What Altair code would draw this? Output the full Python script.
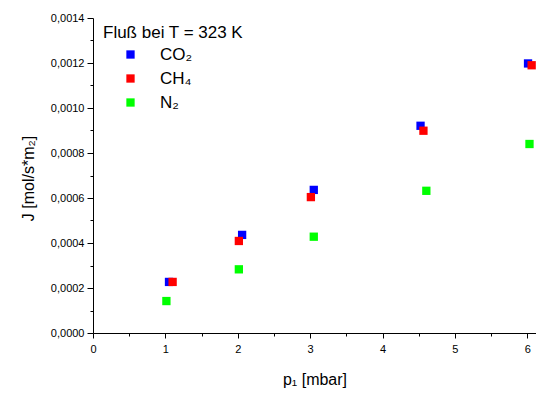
import altair as alt
import pandas as pd

gases = ["CO₂", "CH₄", "N₂"]
colors = ["#0000ff", "#ff0000", "#00ff00"]

co2_p = [1.05, 2.06, 3.05, 4.525, 6.01]
co2_j = [0.000227, 0.000436, 0.000636, 0.000921, 0.001198]
ch4_p = [1.10, 2.015, 3.01, 4.565, 6.06]
ch4_j = [0.000227, 0.000409, 0.000604, 0.000899, 0.00119]
n2_p = [1.014, 2.015, 3.05, 4.605, 6.03]
n2_j = [0.000142, 0.000283, 0.000428, 0.000632, 0.00084]

x_ticks = [0, 0.5, 1, 1.5, 2, 2.5, 3, 3.5, 4, 4.5, 5, 5.5, 6]
y_ticks = [i * 0.0001 for i in range(15)]

rows = []
for g, ps, js in zip(gases, [co2_p, ch4_p, n2_p], [co2_j, ch4_j, n2_j]):
    for p, j in zip(ps, js):
        rows.append({"gas": g, "p": p, "J": j})
df = pd.DataFrame(rows)
df["order"] = df["gas"].map({g: i for i, g in enumerate(gases)})

FONT = "Liberation Sans"

chart = alt.Chart(df).mark_square(size=69, opacity=1, strokeWidth=0).encode(
    x=alt.X(
        "p:Q",
        scale=alt.Scale(domain=[0, 6.12], nice=False, zero=False),
        axis=alt.Axis(
            title="p₁ [mbar]",
            values=x_ticks,
            labelExpr="datum.value % 1 == 0 ? format(datum.value, 'd') : ''",
            tickSize={"condition": {"test": "datum.value % 1 == 0", "value": 5}, "value": 3},
            grid=False,
            domainColor="black",
            tickColor="black",
            labelColor="black",
            labelFont=FONT,
            labelFontSize=11,
            labelPadding=5,
            labelOverlap=False,
            labelBound=False,
            labelFlush=False,
            titleFont=FONT,
            titleFontSize=16,
            titleFontWeight="normal",
            titleColor="black",
            titleBaseline="alphabetic",
            titleY=51,
        ),
    ),
    y=alt.Y(
        "J:Q",
        scale=alt.Scale(domain=[0, 0.0014], nice=False),
        axis=alt.Axis(
            title="J [mol/s*m₂]",
            values=y_ticks,
            labelExpr="round(datum.value * 10000) % 2 == 0 ? replace(format(datum.value, '.4f'), '.', ',') : ''",
            tickSize={"condition": {"test": "round(datum.value * 10000) % 2 == 0", "value": 6}, "value": 3},
            grid=False,
            domainColor="black",
            tickColor="black",
            labelColor="black",
            labelFont=FONT,
            labelFontSize=11,
            labelPadding=3,
            labelOverlap=False,
            labelBound=False,
            labelFlush=False,
            titleFont=FONT,
            titleFontSize=16,
            titleFontWeight="normal",
            titleColor="black",
            titleAngle=-90,
            titleBaseline="middle",
            titleAlign="center",
            titleX=-65,
            titleY=160,
        ),
    ),
    color=alt.Color(
        "gas:N",
        scale=alt.Scale(domain=gases, range=colors),
        legend=alt.Legend(
            title="Fluß bei T = 323 K",
            orient="none",
            legendX=10,
            legendY=7,
            padding=0,
            titleFont=FONT,
            titleFontSize=17,
            titleFontWeight="normal",
            titleColor="black",
            titlePadding=4,
            labelFont=FONT,
            labelFontSize=17,
            labelColor="black",
            labelOffset=21,
            symbolOffset=19,
            symbolType="square",
            symbolSize=69,
            symbolStrokeWidth=0,
            symbolOpacity=1,
            rowPadding=6,
        ),
    ),
    order=alt.Order("order:Q"),
).properties(
    width=443,
    height=315,
    padding={"left": 85, "top": 10, "right": 0, "bottom": 55},
    autosize=alt.AutoSizeParams(type="none"),
).configure_view(stroke=None)

chart.save("out.html", embed_options={"renderer": "svg", "actions": False})
